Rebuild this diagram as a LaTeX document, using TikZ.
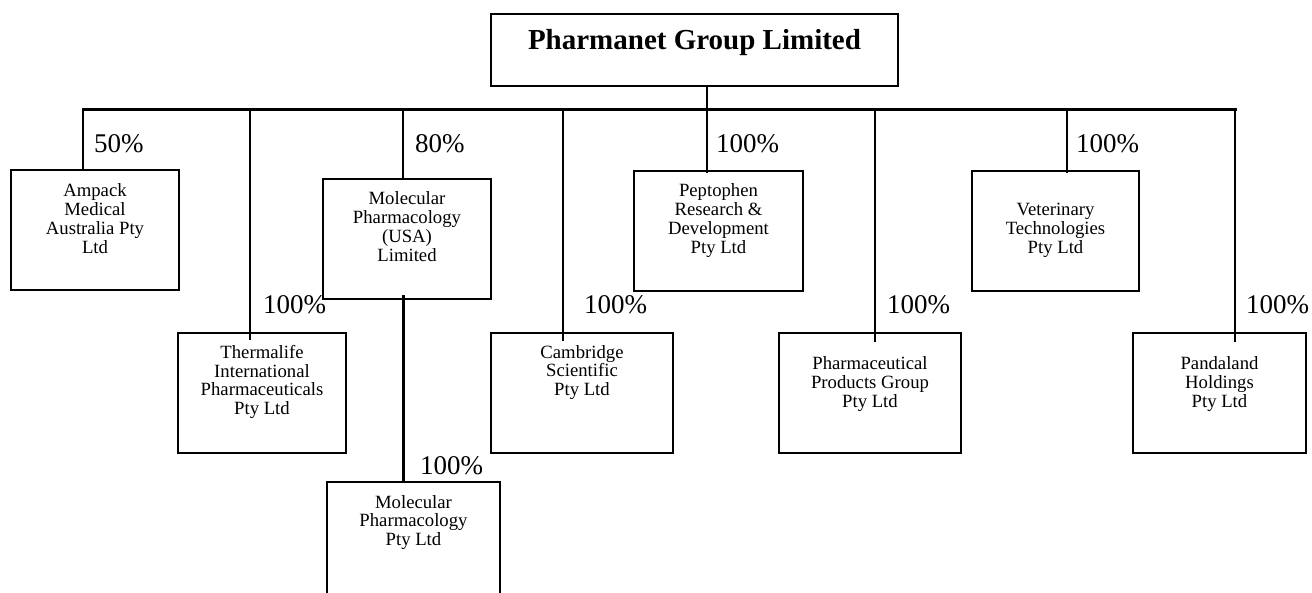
\documentclass[tikz,border=0pt]{standalone}
\usepackage{fontspec}
\setmainfont{Liberation Serif}
\begin{document}
\begin{tikzpicture}[x=1pt,y=-1pt,
  box/.style={draw=black,line width=1.6pt,minimum width=#1,minimum height=120pt,inner sep=0pt,outer sep=0pt},
  boxtext/.style={anchor=north,inner sep=0pt,align=center,font=\fontsize{18.7}{18.8}\selectfont},
  pct/.style={anchor=west,inner sep=0pt,font=\fontsize{27}{27}\selectfont},
  busline/.style={line width=3pt,line cap=rect},
  drop/.style={line width=2.5pt}]
\useasboundingbox (0,0) rectangle (1312,592);
\clip (0,0) rectangle (1312,592);
% top box
\node[draw=black,line width=1.6pt,minimum width=407pt,minimum height=72pt,inner sep=0pt,outer sep=0pt] (top) at (694.5,50) {};
\node[anchor=base,inner sep=0pt,font=\fontsize{29}{29}\selectfont\bfseries] (topT) at (694.5,49) {Pharmanet Group Limited};
% boxes
\node[box=168pt] (amp) at (95,230) {};
\node[box=168pt] (musa) at (407,239) {};
\node[box=169pt] (pept) at (718.5,231) {};
\node[box=167pt] (vet) at (1055.5,231) {};
\node[box=168pt] (therm) at (262,393) {};
\node[box=182pt] (camb) at (582,393) {};
\node[box=182pt] (pharm) at (870,393) {};
\node[box=173pt] (pand) at (1219.5,393) {};
\node[box=173pt] (mpty) at (413.5,542) {};
% box texts
\node[boxtext] (ampT) at (95,183.5) {Ampack\\Medical\\Australia Pty\\Ltd};
\node[boxtext] (musaT) at (407,191.7) {Molecular\\Pharmacology\\(USA)\\Limited};
\node[boxtext] (peptT) at (718.5,183.5) {Peptophen\\Research \&\\Development\\Pty Ltd};
\node[boxtext] (vetT) at (1055.5,203) {Veterinary\\Technologies\\Pty Ltd};
\node[boxtext] (thermT) at (262,345) {Thermalife\\International\\Pharmaceuticals\\Pty Ltd};
\node[boxtext] (cambT) at (582,345) {Cambridge\\Scientific\\Pty Ltd};
\node[boxtext] (pharmT) at (870,356.5) {Pharmaceutical\\Products Group\\Pty Ltd};
\node[boxtext] (pandT) at (1219.5,356.5) {Pandaland\\Holdings\\Pty Ltd};
\node[boxtext] (mptyT) at (413.5,495) {Molecular\\Pharmacology\\Pty Ltd};
% percentages
\node[pct] (p1) at (94,143.5) {50\%};
\node[pct] (p2) at (415,143.5) {80\%};
\node[pct] (p3) at (716,143.5) {100\%};
\node[pct] (p4) at (1076,143.5) {100\%};
\node[pct] (p5) at (263,304.5) {100\%};
\node[pct] (p6) at (584,304.5) {100\%};
\node[pct] (p7) at (887,304.5) {100\%};
\node[pct] (p8) at (1246,304.5) {100\%};
\node[pct] (p9) at (420,466) {100\%};
% bus coordinates
\coordinate (s) at (707,109);
\coordinate (b1) at (83,109);
\coordinate (b2) at (250,109);
\coordinate (b3) at (403,109);
\coordinate (b4) at (563,109);
\coordinate (b5) at (707,109);
\coordinate (b6) at (875,109);
\coordinate (b7) at (1067,109);
\coordinate (b8) at (1235,109);
% connectors
\draw[line width=2pt] (top.south -| s) -- (s);
\draw[busline] (b1) -- (b8);
\draw[drop] (b1) -- (amp.north -| b1);
\draw[drop] (b2) -- ([yshift=-7pt]therm.north -| b2);
\draw[drop] (b3) -- (musa.north -| b3);
\draw[drop] (b4) -- ([yshift=-8pt]camb.north -| b4);
\draw[drop] (b5) -- ([yshift=-2pt]pept.north -| b5);
\draw[drop] (b6) -- ([yshift=-9pt]pharm.north -| b6);
\draw[drop] (b7) -- ([yshift=-2pt]vet.north -| b7);
\draw[drop] (b8) -- ([yshift=-9pt]pand.north -| b8);
\draw[line width=3pt] ([yshift=4pt]musa.south -| b3) -- (mpty.north -| b3);
\end{tikzpicture}
\end{document}
